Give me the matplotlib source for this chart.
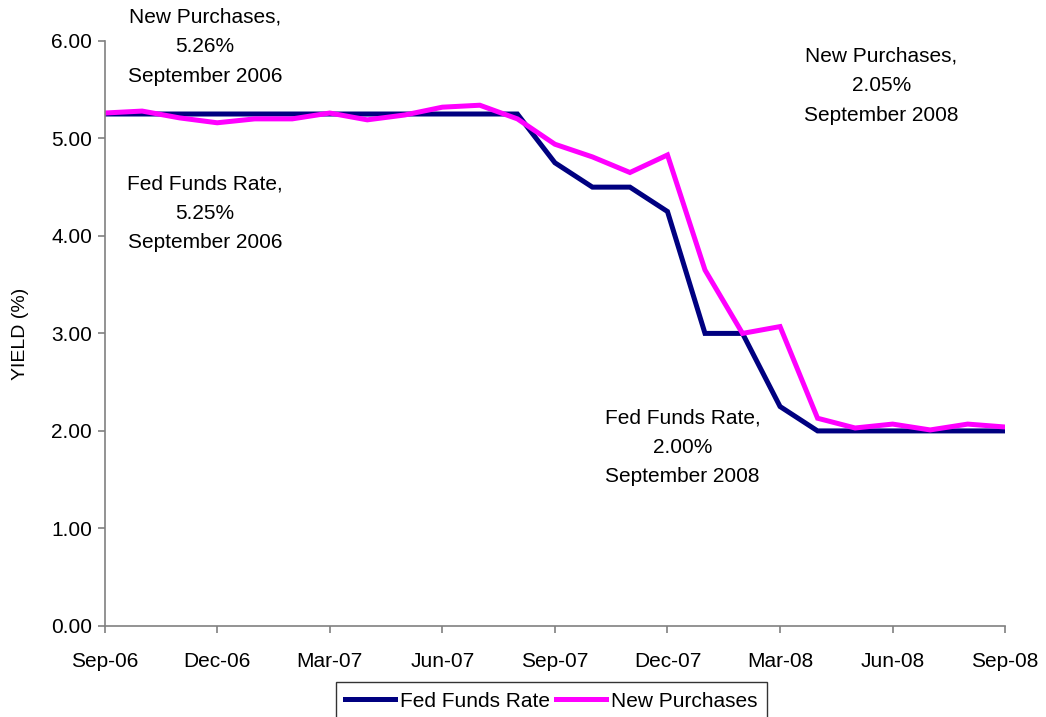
#!/usr/bin/env python3
"""Fed funds rate vs new purchases yield, Sep 2006 - Sep 2008."""
import matplotlib
matplotlib.use("Agg")
import matplotlib.pyplot as plt
import numpy as np

MONTHS = ["Sep-06", "Oct-06", "Nov-06", "Dec-06", "Jan-07", "Feb-07", "Mar-07",
          "Apr-07", "May-07", "Jun-07", "Jul-07", "Aug-07", "Sep-07", "Oct-07",
          "Nov-07", "Dec-07", "Jan-08", "Feb-08", "Mar-08", "Apr-08", "May-08",
          "Jun-08", "Jul-08", "Aug-08", "Sep-08"]
FED_FUNDS = [5.25, 5.25, 5.25, 5.25, 5.25, 5.25, 5.25, 5.25, 5.25, 5.25, 5.25,
             5.25, 4.75, 4.50, 4.50, 4.25, 3.00, 3.00, 2.25, 2.00, 2.00, 2.00,
             2.00, 2.00, 2.00]
NEW_PURCHASES = [5.26, 5.28, 5.21, 5.16, 5.20, 5.20, 5.26, 5.19, 5.24, 5.32, 5.34,
                 5.20, 4.94, 4.81, 4.65, 4.83, 3.65, 3.00, 3.07, 2.13, 2.03, 2.07,
                 2.01, 2.07, 2.04]
TICK_STEP = 3
ANNOTATIONS = [
    ("New Purchases,\n5.26%\nSeptember 2006", 2.67, 5.94),
    ("Fed Funds Rate,\n5.25%\nSeptember 2006", 2.67, 4.23),
    ("New Purchases,\n2.05%\nSeptember 2008", 20.7, 5.54),
    ("Fed Funds Rate,\n2.00%\nSeptember 2008", 15.4, 1.83),
]

plt.rcParams["font.family"] = ["Liberation Sans", "DejaVu Sans"]

fig = plt.figure(figsize=(10.46, 7.17), dpi=100)
ax = fig.add_axes([0.100, 0.127, 0.861, 0.816])

x = np.arange(len(MONTHS))
ax.plot(x, FED_FUNDS, color="#000080", linewidth=3.6, label="Fed Funds Rate",
        solid_joinstyle="miter")
ax.plot(x, NEW_PURCHASES, color="#FF00FF", linewidth=3.6, label="New Purchases",
        solid_joinstyle="miter")

ax.set_xlim(0, len(MONTHS) - 1)
ax.set_ylim(0, 6)
ax.set_xticks(x[::TICK_STEP])
ax.set_xticklabels(MONTHS[::TICK_STEP], fontsize=15)
ax.set_yticks(np.arange(0, 7, 1))
ax.set_yticklabels([f"{v:.2f}" for v in range(7)], fontsize=15)
ax.set_ylabel("YIELD (%)", fontsize=14, labelpad=16)

for side in ("top", "right"):
    ax.spines[side].set_visible(False)
for side in ("left", "bottom"):
    ax.spines[side].set_color("#808080")
    ax.spines[side].set_linewidth(1.2)
ax.tick_params(axis="both", direction="out", length=5, width=1.2, color="#808080")
ax.tick_params(axis="x", pad=14)
ax.tick_params(axis="y", pad=4)

for text, tx, ty in ANNOTATIONS:
    ax.text(tx, ty, text, ha="center", va="center", fontsize=15,
            linespacing=1.7, clip_on=False)

leg = fig.legend(loc="upper center", bbox_to_anchor=(0.527, 0.063), ncol=2,
                 fontsize=15, frameon=True, fancybox=False, handlelength=2.4,
                 handletextpad=0.25, columnspacing=0.25, borderpad=0.45)
leg.get_frame().set_edgecolor("#000000")
leg.get_frame().set_linewidth(1.0)

fig.savefig("out.png", dpi=100)
